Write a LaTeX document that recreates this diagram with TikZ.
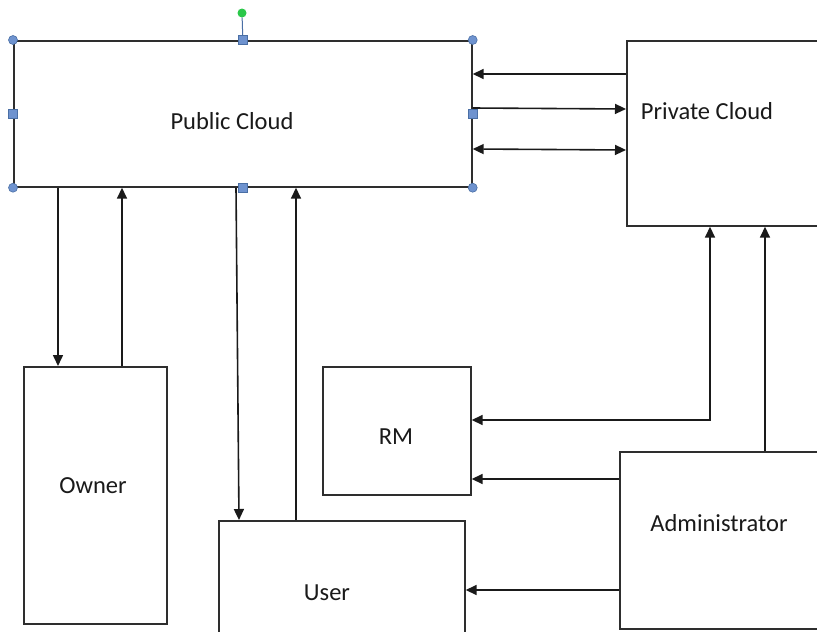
\documentclass[tikz,border=0pt]{standalone}
\usepackage{fontspec}
\setmainfont{Carlito}
\usepackage{tikz}
\usepackage{xcolor}
\usetikzlibrary{arrows.meta,positioning,calc}
\definecolor{ink}{HTML}{1A1A1A}
\definecolor{boxline}{HTML}{2E2E2E}
\definecolor{handlefill}{HTML}{6F93CF}
\definecolor{handleedge}{HTML}{4A6FA5}
\definecolor{rotgreen}{HTML}{2BC84A}
\tikzset{
  cloudbox/.style={draw=boxline,fill=white,line width=1.7pt,
                   anchor=north west,inner sep=0pt},
  boxtext/.style={font=\fontsize{24.5}{28}\selectfont,text=ink,inner sep=0pt},
  flowarr/.style={-{Triangle[length=11pt,width=10pt]},line width=1.6pt,color=ink},
  dblarr/.style={{Triangle[length=11pt,width=10pt]}-{Triangle[length=11pt,width=10pt]},line width=1.6pt,color=ink},
  cornerhandle/.style={circle,fill=handlefill,draw=handleedge,line width=0.6pt,
                       inner sep=0pt,minimum size=9pt},
  sidehandle/.style={rectangle,fill=handlefill,draw=handleedge,line width=0.6pt,
                     inner sep=0pt,minimum size=9pt}
}

\begin{document}
\begin{tikzpicture}[x=1pt,y=-1pt]
  \clip (0,0) rectangle (817,632);
  \fill[white] (0,0) rectangle (817,632);

  % boxes
  \node[cloudbox,minimum width=458pt,minimum height=146pt] (pub) at (13,40) {};
  \node[cloudbox,minimum width=220pt,minimum height=185pt] (prv) at (626,40) {};
  \node[cloudbox,minimum width=143pt,minimum height=257pt] (own) at (23,366) {};
  \node[cloudbox,minimum width=148pt,minimum height=128pt] (rm) at (322,366) {};
  \node[cloudbox,minimum width=246pt,minimum height=140pt] (usr) at (218,520) {};
  \node[cloudbox,minimum width=220pt,minimum height=177pt] (adm) at (619,451) {};

  \node[boxtext] (pubtxt) at (232,121) {Public Cloud};
  \node[boxtext] (prvtxt) at (707,111) {Private Cloud};
  \node[boxtext] (owntxt) at (93,486) {Owner};
  \node[boxtext] (rmtxt) at (396,437) {RM};
  \node[boxtext] (usrtxt) at (327,593) {User};
  \node[boxtext] (admtxt) at (719,523) {Administrator};

  % public <-> private
  \draw[flowarr] (prv.west|-0,74) -- (pub.east|-0,74);
  \draw[flowarr] (pub.east|-0,108) -- (prv.west|-0,109);
  \draw[dblarr] (pub.east|-0,149) -- (prv.west|-0,150);

  % owner and user
  \draw[flowarr] (pub.south-|58,0) -- (own.north-|58,0);
  \draw[flowarr] (own.north-|122,0) -- (pub.south-|122,0);
  \draw[flowarr] (pub.south-|236,0) -- (usr.north-|239,0);
  \draw[flowarr] (usr.north-|296,0) -- (pub.south-|296,0);

  % administrator
  \draw[flowarr] (adm.north-|765,0) -- (prv.south-|765,0);
  \draw[dblarr] (rm.east|-0,420) -| (prv.south-|710,0);
  \draw[flowarr] (adm.west|-0,479) -- (rm.east|-0,479);
  \draw[flowarr] (adm.west|-0,590) -- (usr.east|-0,590);

  % selection handles
  \node[circle,fill=rotgreen,inner sep=0pt,minimum size=9pt] (rot) at (242,13) {};
  \draw[handleedge,line width=1pt] (rot) -- (pub.north);
  \foreach \a in {north west,north east,south west,south east}
    \node[cornerhandle] at (pub.\a) {};
  \foreach \a in {north,south,west,east}
    \node[sidehandle] at (pub.\a) {};
\end{tikzpicture}
\end{document}
